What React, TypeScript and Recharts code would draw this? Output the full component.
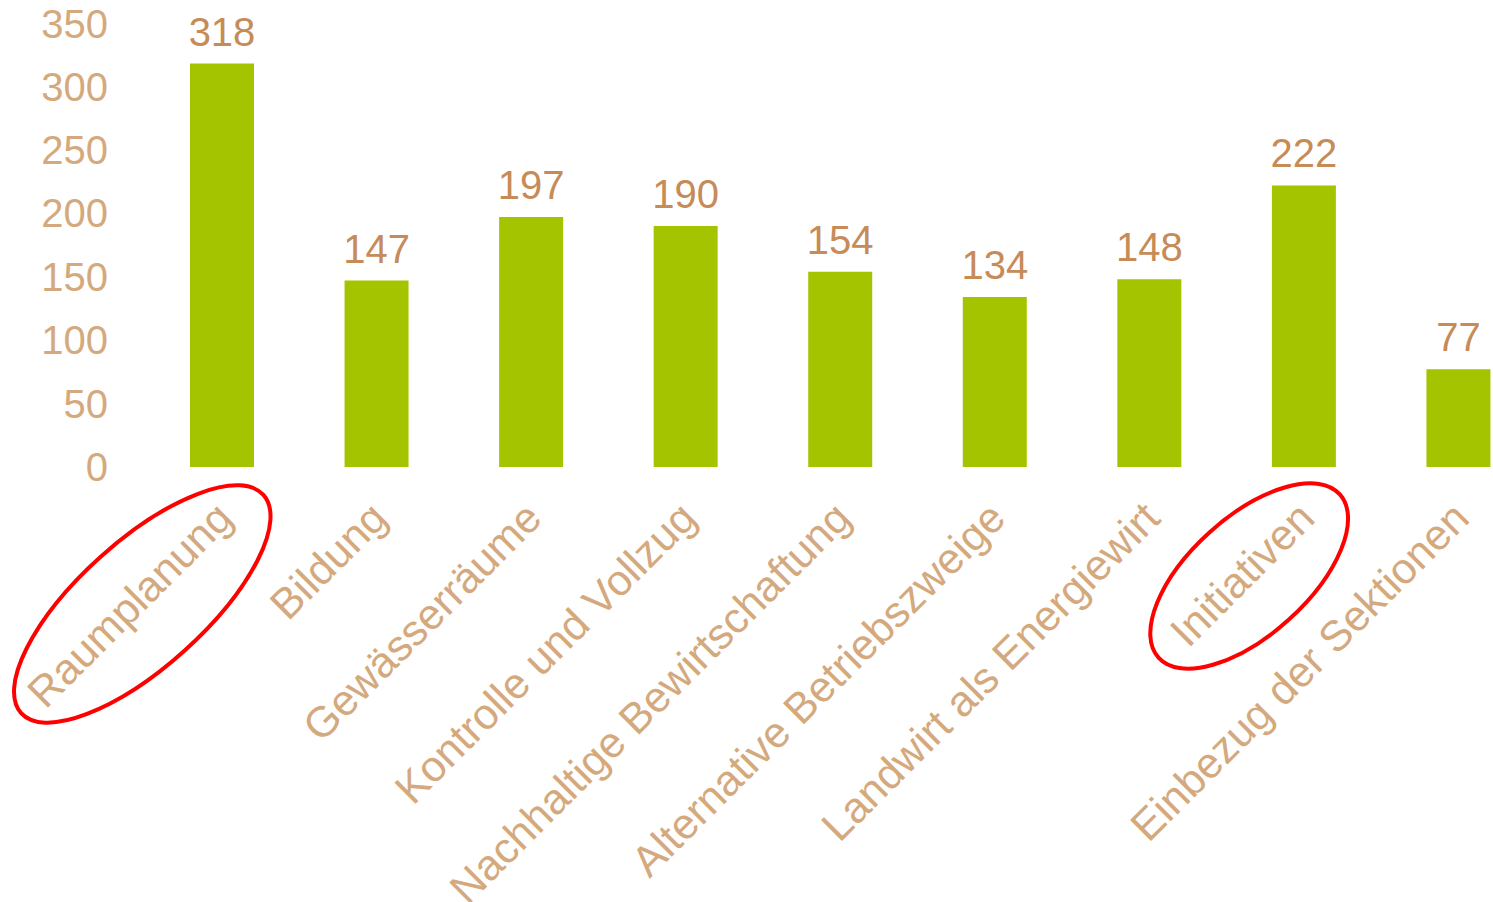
import { BarChart, Bar, XAxis, YAxis, LabelList } from "recharts";

const categories = [
  "Raumplanung",
  "Bildung",
  "Gewässerräume",
  "Kontrolle und Vollzug",
  "Nachhaltige Bewirtschaftung",
  "Alternative Betriebszweige",
  "Landwirt als Energiewirt",
  "Initiativen",
  "Einbezug der Sektionen",
];
const counts = [318, 147, 197, 190, 154, 134, 148, 222, 77];
const yTicks = [0, 50, 100, 150, 200, 250, 300, 350];
const highlighted = ["Raumplanung", "Initiativen"];

const data = categories.map((name, i) => ({ name, count: counts[i] }));

const font = "'Liberation Sans', Arial, sans-serif";
const tickColor = "#D4A97E";
const valueColor = "#C68B57";

// hand-drawn red rings around the highlighted labels (offset from tick point)
const rings: Record<string, { dx: number; dy: number; rx: number; ry: number }> = {
  Raumplanung: { dx: -82, dy: 94, rx: 163, ry: 63 },
  Initiativen: { dx: -57, dy: 66, rx: 122, ry: 59 },
};

function CategoryTick(props: any) {
  const { x, y, payload } = props;
  const label: string = payload.value;
  const ring = highlighted.includes(label) ? rings[label] : null;
  return (
    <g transform={`translate(${x + 2},${y})`}>
      <text
        transform="rotate(-45)"
        textAnchor="end"
        dy="0.35em"
        fill={tickColor}
        fontSize={43}
        fontFamily={font}
      >
        {label}
      </text>
      {ring && (
        <ellipse
          transform={`translate(${ring.dx},${ring.dy}) rotate(-42)`}
          cx={0}
          cy={0}
          rx={ring.rx}
          ry={ring.ry}
          fill="none"
          stroke="#FF0000"
          strokeWidth={4}
        />
      )}
    </g>
  );
}

export default function App() {
  return (
    <div
      style={{
        position: "absolute",
        left: 0,
        top: 0,
        width: 1493,
        height: 902,
        overflow: "hidden",
        background: "#fff",
      }}
    >
      <BarChart
        width={1536}
        height={902}
        data={data}
        margin={{ top: 23, right: 0, bottom: 0, left: 0 }}
        barSize={64}
      >
        <XAxis
          dataKey="name"
          axisLine={false}
          tickLine={false}
          tickSize={0}
          tickMargin={43}
          height={435}
          interval={0}
          tick={<CategoryTick />}
        />
        <YAxis
          domain={[0, 350]}
          ticks={yTicks}
          width={145}
          axisLine={false}
          tickLine={false}
          tickSize={0}
          tickMargin={37}
          tick={{ fill: tickColor, fontSize: 40, fontFamily: font }}
        />
        <Bar dataKey="count" fill="#A5C400" isAnimationActive={false}>
          <LabelList
            dataKey="count"
            position="top"
            offset={18}
            fill={valueColor}
            fontSize={40}
            fontFamily={font}
          />
        </Bar>
      </BarChart>
    </div>
  );
}
